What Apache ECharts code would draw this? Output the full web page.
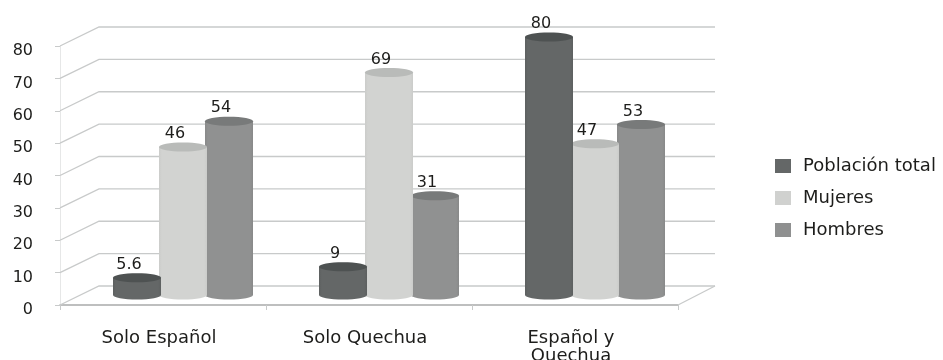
<!DOCTYPE html>
<html>
<head>
<meta charset="utf-8">
<style>html,body{margin:0;padding:0;background:#fff}#c{width:943px;height:360px}</style>
<script src="https://cdn.jsdelivr.net/npm/echarts@6/dist/echarts.min.js"></script>
</head>
<body>
<div id="c"></div>
<script>
// Language spoken, by group: three pseudo-3D cylinder series on a walled floor
const categories = ['Solo Español', 'Solo Quechua', 'Español y\nQuechua'];
const poblacionTotal = [5.6, 9, 80];
const mujeres = [46, 69, 47];
const hombres = [54, 31, 53];
const yTicks = [0, 10, 20, 30, 40, 50, 60, 70, 80];

const FONT = '"DejaVu Sans", sans-serif';
const INK = '#1d1d1b';
const RULE = '#c8caca';
const DEPTH_X = 39, DEPTH_Y = -19;       // floor depth of the projected walls
const BAR_LIFT = -9, BAR_SHIFT = 20;     // bars stand in the middle of the floor
const BAR_W = 48, BAR_STEP = 46, CAP_RY = 4.5;

function cylinder(slot, body, edge, cap) {
  return function (params, api) {
    const cat = api.value(0), val = api.value(1);
    const top = api.coord([cat, val]);
    const base = api.coord([cat, 0]);
    const cx = top[0] + BAR_SHIFT + slot * BAR_STEP;
    const yTop = top[1] + BAR_LIFT, yBase = base[1] + BAR_LIFT;
    const fill = {
      type: 'linear', x: 0, y: 0, x2: 1, y2: 0,
      colorStops: [
        { offset: 0, color: edge }, { offset: 0.06, color: body },
        { offset: 0.94, color: body }, { offset: 1, color: edge }
      ]
    };
    return {
      type: 'group',
      children: [
        { type: 'ellipse', shape: { cx: cx, cy: yBase - 1, rx: BAR_W / 2, ry: CAP_RY }, style: { fill: body } },
        { type: 'rect', shape: { x: cx - BAR_W / 2, y: yTop, width: BAR_W, height: yBase - yTop - 1 }, style: { fill: fill } },
        { type: 'ellipse', shape: { cx: cx, cy: yTop, rx: BAR_W / 2, ry: CAP_RY }, style: { fill: cap } },
        {
          type: 'text', z2: 10,
          style: {
            x: cx - 8, y: yTop - 13, text: String(val), fill: INK,
            font: '16px ' + FONT, textAlign: 'center', textVerticalAlign: 'middle'
          }
        }
      ]
    };
  };
}

// Side wall and back wall rule for one tick value, plus the floor's right edge at zero
function wallRule(params, api) {
  const v = api.value(1);
  const box = params.coordSys;
  const y = api.coord([0, v])[1];
  const left = box.x, right = box.x + box.width;
  const children = [{
    type: 'polyline',
    shape: { points: [[left, y], [left + DEPTH_X, y + DEPTH_Y], [right + DEPTH_X - 2, y + DEPTH_Y]] },
    style: { fill: 'none', stroke: RULE, lineWidth: 1.3 }
  }];
  if (v === 0) {
    children.push({
      type: 'line',
      shape: { x1: right, y1: y, x2: right + DEPTH_X - 2, y2: y + DEPTH_Y },
      style: { stroke: RULE, lineWidth: 1.3 }
    });
  }
  return { type: 'group', children: children };
}

function pairs(values) { return values.map((v, i) => [i, v]); }

const chart = echarts.init(document.getElementById('c'), null, { renderer: 'canvas' });
chart.setOption({
  animation: false,
  backgroundColor: '#fff',
  textStyle: { fontFamily: FONT },
  grid: { left: 60, top: 46, width: 618, height: 259, outerBoundsMode: 'none' },
  legend: {
    orient: 'vertical', left: 770, top: 152, itemWidth: 16, itemHeight: 14, itemGap: 14,
    icon: 'rect', data: ['Población total', 'Mujeres', 'Hombres'],
    textStyle: { fontFamily: FONT, fontSize: 18, color: INK, padding: [0, 0, 0, 7] },
    selectedMode: false
  },
  xAxis: {
    type: 'category', data: categories,
    axisLine: { lineStyle: { color: '#a9abab', width: 1.5 } },
    axisTick: { show: true, length: 5, alignWithLabel: false, lineStyle: { color: RULE } },
    axisLabel: { color: INK, fontSize: 18, margin: 24, lineHeight: 18, fontFamily: FONT, padding: [0, 8, 0, 0] },
    splitLine: { show: false }
  },
  yAxis: {
    type: 'value', min: 0, max: 80, interval: 10,
    axisLine: { show: true, lineStyle: { color: '#e6e7e7' } },
    axisTick: { show: true, length: 5, lineStyle: { color: RULE } },
    axisLabel: { color: INK, fontSize: 16, margin: 27, fontFamily: FONT, verticalAlign: 'top', lineHeight: 10 },
    splitLine: { show: false }
  },
  series: [
    { type: 'custom', name: 'walls', z: 1, silent: true, renderItem: wallRule,
      data: yTicks.map(v => [0, v]), encode: { x: 0, y: 1 } },
    { type: 'custom', name: 'Hombres', z: 2, color: '#8f9090', silent: true,
      renderItem: cylinder(1, '#909191', '#888989', '#787a7a'),
      data: pairs(hombres), encode: { x: 0, y: 1 } },
    { type: 'custom', name: 'Mujeres', z: 3, color: '#d0d1cf', silent: true,
      renderItem: cylinder(0, '#d2d3d1', '#cbccca', '#b9bbb9'),
      data: pairs(mujeres), encode: { x: 0, y: 1 } },
    { type: 'custom', name: 'Población total', z: 4, color: '#646767', silent: true,
      renderItem: cylinder(-1, '#646767', '#5d6060', '#4e5252'),
      data: pairs(poblacionTotal), encode: { x: 0, y: 1 } }
  ]
});
</script>
</body>
</html>
